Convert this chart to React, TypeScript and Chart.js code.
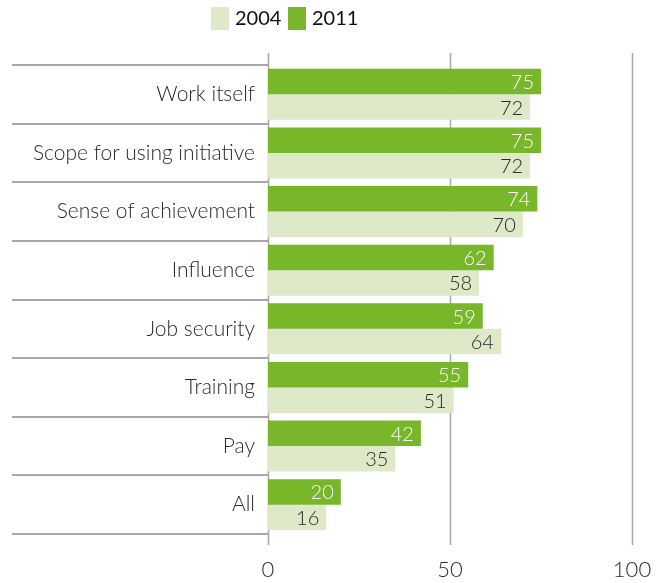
import React, { useEffect, useRef } from "react";
import { Chart, registerables } from "chart.js";

Chart.register(...registerables);

const categories = [
  "Work itself",
  "Scope for using initiative",
  "Sense of achievement",
  "Influence",
  "Job security",
  "Training",
  "Pay",
  "All",
];
const values2011 = [75, 75, 74, 62, 59, 55, 42, 20];
const values2004 = [72, 72, 70, 58, 64, 51, 35, 16];
const xTicks = [0, 50, 100];

const GREEN = "#78b62a";
const LIGHT = "#dde9c8";
const GRID = "#a8a8a8";
const TEXT = "#2a2a2a";
const FONT = "Lato, 'Open Sans', sans-serif";

const framePlugin = {
  id: "frame",
  beforeDatasetsDraw(chart: any) {
    const { ctx, chartArea } = chart;
    const xs = chart.scales.x;
    ctx.save();
    ctx.strokeStyle = GRID;
    ctx.lineWidth = 1.5;
    xTicks.forEach((t) => {
      const x = Math.round(xs.getPixelForValue(t)) + 0.5;
      ctx.beginPath();
      ctx.moveTo(x, chartArea.top - 12);
      ctx.lineTo(x, chartArea.bottom + 11);
      ctx.stroke();
    });
    const band = (chartArea.bottom - chartArea.top) / categories.length;
    ctx.lineWidth = 2;
    for (let i = 0; i <= categories.length; i++) {
      const y = Math.round(chartArea.top + i * band);
      ctx.beginPath();
      ctx.moveTo(12, y);
      ctx.lineTo(chartArea.left, y);
      ctx.stroke();
    }
    ctx.restore();
  },
  afterDatasetsDraw(chart: any) {
    const { ctx } = chart;
    ctx.save();
    ctx.font = `300 20px ${FONT}`;
    ctx.textAlign = "right";
    ctx.textBaseline = "middle";
    chart.data.datasets.forEach((ds: any, di: number) => {
      const meta = chart.getDatasetMeta(di);
      meta.data.forEach((bar: any, i: number) => {
        ctx.fillStyle = ds.label === "2011" ? "#ffffff" : TEXT;
        ctx.fillText(String(ds.data[i]), bar.x - 7, bar.y + 1);
      });
    });
    ctx.restore();
  },
  afterDraw(chart: any) {
    const { ctx } = chart;
    ctx.save();
    ctx.font = `20px ${FONT}`;
    ctx.textBaseline = "middle";
    ctx.textAlign = "left";
    const items = [
      { label: "2004", color: LIGHT, x: 211 },
      { label: "2011", color: GREEN, x: 288 },
    ];
    items.forEach((it) => {
      ctx.fillStyle = it.color;
      ctx.fillRect(it.x, 7, 18, 23);
      ctx.fillStyle = "#111";
      ctx.fillText(it.label, it.x + 24, 19);
    });
    ctx.restore();
  },
};

export default function App() {
  const ref = useRef<HTMLCanvasElement>(null);
  useEffect(() => {
    document.body.style.margin = "0";
    const chart = new Chart(ref.current!, {
      type: "bar",
      data: {
        labels: categories,
        datasets: [
          { label: "2011", data: values2011, backgroundColor: GREEN, barPercentage: 1, categoryPercentage: 0.87 },
          { label: "2004", data: values2004, backgroundColor: LIGHT, barPercentage: 1, categoryPercentage: 0.87 },
        ],
      },
      options: {
        indexAxis: "y",
        animation: false,
        responsive: false,
        maintainAspectRatio: false,
        layout: { padding: { top: 65, right: 31, left: 0, bottom: 0 } },
        plugins: { legend: { display: false }, tooltip: { enabled: false } },
        scales: {
          x: {
            min: 0,
            max: 100,
            afterBuildTicks: (s: any) => {
              s.ticks = xTicks.map((v) => ({ value: v }));
            },
            grid: { display: false },
            border: { display: false },
            ticks: { color: TEXT, font: { family: FONT, size: 22, weight: "300" }, padding: 15 },
            afterFit: (s: any) => {
              s.height = 49;
              s.paddingLeft = 0;
              s.paddingRight = 0;
            },
          },
          y: {
            grid: { display: false },
            border: { display: false },
            ticks: { color: TEXT, font: { family: FONT, size: 21, weight: "300" }, padding: 5 },
            afterFit: (s: any) => {
              s.width = 268;
              s.paddingTop = 0;
              s.paddingBottom = 0;
            },
          },
        },
      },
      plugins: [framePlugin],
    });
    return () => chart.destroy();
  }, []);
  return <canvas ref={ref} width={663} height={583} style={{ display: "block" }} />;
}
